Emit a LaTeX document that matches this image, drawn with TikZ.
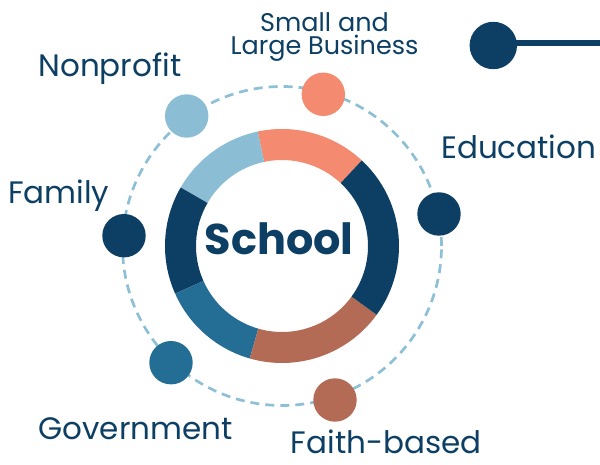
\documentclass[tikz,border=0pt]{standalone}
\usepackage{fontspec}
\setmainfont{Poppins}
\usetikzlibrary{calc}
\definecolor{navy}{HTML}{0C3F63}
\definecolor{salmon}{HTML}{F48A6F}
\definecolor{lightblue}{HTML}{8BBED4}
\definecolor{midblue}{HTML}{246D95}
\definecolor{brown}{HTML}{B36B56}
\definecolor{dashblue}{HTML}{8DC0D6}
\newcommand{\ringseg}[3]{%
  \fill[#3] ($(c)+(#1:117)$) arc[start angle=#1,end angle=#2,radius=117]
    -- ($(c)+(#2:86)$) arc[start angle=#2,end angle=#1,radius=86] -- cycle;}
\begin{document}
\begin{tikzpicture}[x=1pt,y=1pt,
  dot/.style={circle,minimum size=43.4pt,inner sep=0pt,draw=none},
  lbl/.style={text=navy,font=\fontsize{31}{36}\selectfont,inner sep=0pt}]
\useasboundingbox (0,0) rectangle (600,465);
\coordinate (c) at (282,219);
% dashed orbit
\draw[dashblue,line width=2.7pt,dash pattern=on 9pt off 6pt] (c) circle[radius=159.5];
% ring segments
\ringseg{47}{102}{salmon}
\ringseg{102}{150}{lightblue}
\ringseg{150}{204}{navy}
\ringseg{204}{254}{midblue}
\ringseg{254}{324}{brown}
\ringseg{324}{407}{navy}
\node[text=navy,font=\fontsize{43}{48}\selectfont\bfseries,inner sep=0pt,anchor=base] (school) at (279.2,210) {School};
% outer dots
\node[dot,fill=lightblue] (dnon) at (186.7,349) {};
\node[dot,fill=salmon] (dbus) at (323.3,370.7) {};
\node[dot,fill=navy] (dedu) at (439,251) {};
\node[dot,fill=navy] (dfam) at (124,229.3) {};
\node[dot,fill=midblue] (dgov) at (171,102.3) {};
\node[dot,fill=brown] (dfai) at (335,65) {};
% labels
\node[lbl,anchor=base west] (tnon) at (38.3,388.3) {Nonprofit};
\node[lbl,font=\fontsize{25.5}{23}\selectfont,align=center,anchor=base] (tbus) at (324.5,410) {Small and\\Large Business};
\node[lbl,anchor=base west] (tedu) at (441,306) {Education};
\node[lbl,anchor=base west] (tfam) at (8,261) {Family};
\node[lbl,anchor=base west] (tgov) at (38.3,25) {Government};
\node[lbl,anchor=base west,text depth=0pt] (tfai) at (290.7,11) {Faith-based};
% top-right marker
\node[circle,minimum size=47.4pt,inner sep=0pt,fill=navy] (mk) at (493.3,419.5) {};
\coordinate (mkend) at (600,422.2);
\draw[navy,line width=5.7pt] (mk.center) ++(0,2.7) -- (mkend);
\end{tikzpicture}
\end{document}
